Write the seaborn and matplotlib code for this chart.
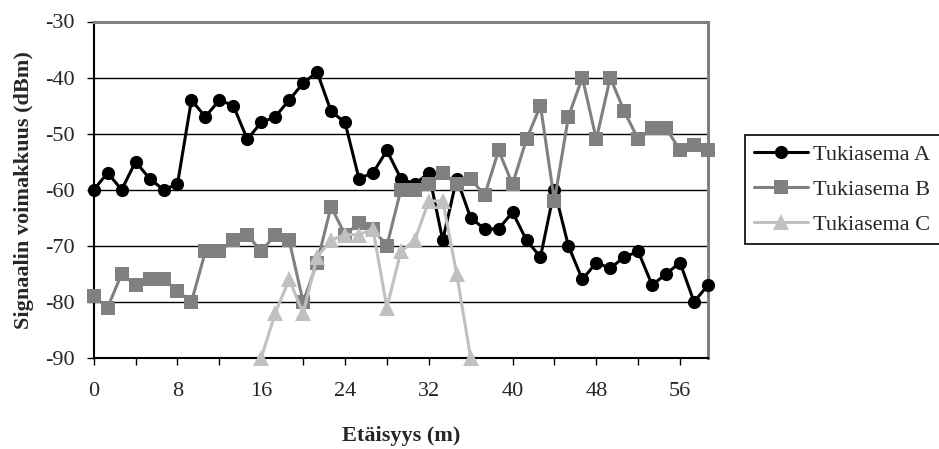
import numpy as np
import pandas as pd
import matplotlib
matplotlib.use("Agg")
import matplotlib.pyplot as plt
import seaborn as sns

# ---- data ----
step = 4 / 3  # distance between measurement points (m)
series_names = ["Tukiasema A", "Tukiasema B", "Tukiasema C"]
a_values = [-60, -57, -60, -55, -58, -60, -59, -44, -47, -44, -45, -51, -48, -47, -44, -41,
            -39, -46, -48, -58, -57, -53, -58, -59, -57, -69, -58, -65, -67, -67, -64, -69,
            -72, -60, -70, -76, -73, -74, -72, -71, -77, -75, -73, -80, -77]
b_values = [-79, -81, -75, -77, -76, -76, -78, -80, -71, -71, -69, -68, -71, -68, -69, -80,
            -73, -63, -68, -66, -67, -70, -60, -60, -59, -57, -59, -58, -61, -53, -59, -51,
            -45, -62, -47, -40, -51, -40, -46, -51, -49, -49, -53, -52, -53]
c_start = 12
c_values = [-90, -82, -76, -82, -72, -69, -68, -68, -67, -81, -71, -69, -62, -62, -75, -90]
x_tick_labels = [0, 8, 16, 24, 32, 40, 48, 56]
y_ticks = [-90, -80, -70, -60, -50, -40, -30]

rows = []
for i, v in enumerate(a_values):
    rows.append({"x": i * step, "v": v, "s": series_names[0]})
for i, v in enumerate(b_values):
    rows.append({"x": i * step, "v": v, "s": series_names[1]})
for i, v in enumerate(c_values):
    rows.append({"x": (c_start + i) * step, "v": v, "s": series_names[2]})
df = pd.DataFrame(rows)

sns.set_style("white")
plt.rcParams["font.family"] = ["Liberation Serif", "DejaVu Serif"]
FS = 16

fig = plt.figure(figsize=(9.39, 4.49), dpi=100)
ax = fig.add_axes([93.7 / 939, 1 - 358 / 449, (708 - 93.7) / 939, (358 - 21.5) / 449])

palette = {series_names[0]: "#000000", series_names[1]: "#808080", series_names[2]: "#c0c0c0"}
markers = {series_names[0]: "o", series_names[1]: "s", series_names[2]: "^"}
msizes = {series_names[0]: 9.5, series_names[1]: 9.5, series_names[2]: 11}

for name in series_names:
    sub = df[df["s"] == name]
    sns.lineplot(data=sub, x="x", y="v", ax=ax, color=palette[name], marker=markers[name],
                 markersize=msizes[name], markeredgewidth=0, linewidth=2.2,
                 estimator=None, sort=False, label=name, clip_on=False, zorder=3)

n_pts = len(a_values)
ax.set_xlim(0, (n_pts - 1) * step)
ax.set_ylim(-90, -30)
ax.set_xticks(x_tick_labels)
ax.set_xticklabels([str(t) for t in x_tick_labels])
ax.set_xticks(np.arange(0, (n_pts - 1) * step + 0.01, 4), minor=True)
ax.set_yticks(y_ticks)
ax.set_yticklabels([str(t) for t in y_ticks])

for y in y_ticks[1:-1]:
    ax.axhline(y, color="black", linewidth=1.0, zorder=1)

ax.tick_params(axis="both", which="both", direction="out", length=5, width=1,
               color="black", labelsize=FS, bottom=True, left=True)
ax.tick_params(axis="y", pad=9)
ax.tick_params(axis="x", which="major", pad=12)
ax.tick_params(axis="x", which="minor", labelbottom=False)

for side in ["left", "bottom"]:
    ax.spines[side].set_color("black")
    ax.spines[side].set_linewidth(1.5)
for side in ["top", "right"]:
    ax.spines[side].set_color("#808080")
    ax.spines[side].set_linewidth(2.2)
    ax.spines[side].set_visible(True)

ax.set_xlabel("Etäisyys (m)", fontsize=FS, fontweight="bold", labelpad=18)
ax.set_ylabel("Signaalin voimakkuus (dBm)", fontsize=FS, fontweight="bold", labelpad=8)

if ax.legend_:
    ax.legend_.remove()
handles, labels = ax.get_legend_handles_labels()
leg = fig.legend(handles, labels, loc="upper left",
                 bbox_to_anchor=(745 / 939, 1 - 135 / 449), fontsize=FS,
                 frameon=True, fancybox=False, edgecolor="black", framealpha=1,
                 handlelength=2.4, labelspacing=0.65, borderpad=0.42, handletextpad=0.25,
                 borderaxespad=0)
leg.get_frame().set_linewidth(1.2)

fig.savefig("out.png", dpi=100)
